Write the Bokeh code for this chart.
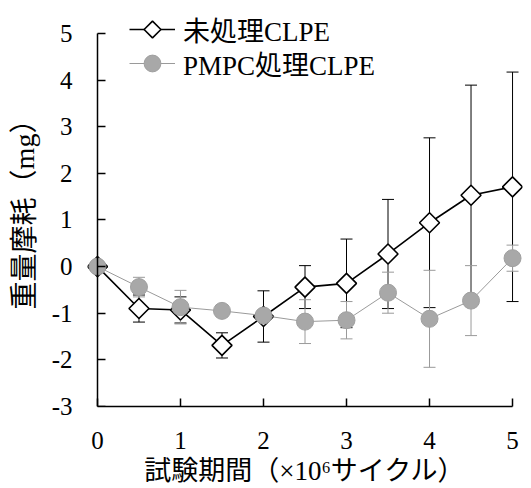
from bokeh.plotting import figure
from bokeh.models import (ColumnDataSource, Whisker, TeeHead, Legend, LegendItem,
                          FixedTicker, Range1d, LinearAxis, CustomJSTickFormatter)
from bokeh.embed import file_html
from bokeh.resources import INLINE

# ---- data ----
cycles = [0, 0.5, 1, 1.5, 2, 2.5, 3, 3.5, 4, 4.5, 5]
untreated = [0, -0.90, -0.93, -1.69, -1.07, -0.44, -0.36, 0.27, 0.94, 1.53, 1.71]
untreated_sd = [0, 0.29, 0.28, 0.27, 0.55, 0.46, 0.95, 1.17, 1.82, 2.36, 2.46]
pmpc = [0, -0.44, -0.87, -0.95, -1.05, -1.18, -1.15, -0.56, -1.12, -0.73, 0.18]
pmpc_sd = [0, 0.21, 0.36, 0.08, 0.10, 0.47, 0.40, 0.44, 1.04, 0.75, 0.28]
x_ticks = [0, 1, 2, 3, 4, 5]
y_ticks = [-3, -2, -1, 0, 1, 2, 3, 4, 5]
label_untreated = "未処理CLPE"
label_pmpc = "PMPC処理CLPE"
x_title = "試験期間（×10⁶サイクル）"
y_title = "重量摩耗（mg）"

FONT = "'Liberation Serif', 'Noto Sans CJK JP'"
GRAY = "#9a9a9a"

src_u = ColumnDataSource(dict(
    x=cycles, y=untreated,
    lo=[m - s for m, s in zip(untreated, untreated_sd)],
    hi=[m + s for m, s in zip(untreated, untreated_sd)]))
src_p = ColumnDataSource(dict(
    x=cycles, y=pmpc,
    lo=[m - s for m, s in zip(pmpc, pmpc_sd)],
    hi=[m + s for m, s in zip(pmpc, pmpc_sd)]))

p = figure(width=531, height=488, output_backend="svg", toolbar_location=None,
           x_range=Range1d(-0.12, 5.12), y_range=Range1d(-3, 5.533),
           y_axis_location=None,
           min_border_left=87, min_border_right=9, min_border_top=8,
           min_border_bottom=80)
p.outline_line_color = None
p.grid.visible = False
p.background_fill_color = "white"
p.border_fill_color = "white"

num_fmt = CustomJSTickFormatter(code="return String(tick)")


def style(ax):
    ax.axis_line_color = "black"
    ax.axis_line_width = 1.5
    ax.major_tick_in = 8
    ax.major_tick_out = 0
    ax.major_tick_line_color = "black"
    ax.major_tick_line_width = 1.5
    ax.minor_tick_line_color = None
    ax.major_label_text_font = FONT
    ax.major_label_text_font_size = "25px"
    ax.major_label_text_color = "black"
    ax.axis_label_text_font = FONT
    ax.axis_label_text_font_size = "27px"
    ax.axis_label_text_font_style = "normal"
    ax.axis_label_text_color = "black"


# x axis
xa = p.xaxis[0]
style(xa)
xa.ticker = FixedTicker(ticks=x_ticks)
xa.formatter = num_fmt
xa.bounds = (0, 5)
xa.major_label_standoff = 25
xa.axis_label_standoff = 4
xa.axis_label = x_title

# y axis: labels (at the frame edge) + rule/ticks at x = 0
ya_lab = LinearAxis(ticker=FixedTicker(ticks=y_ticks), axis_label=y_title,
                    formatter=num_fmt, bounds=(-3, 5))
style(ya_lab)
ya_lab.axis_label_text_font_size = "28px"
ya_lab.axis_line_color = None
ya_lab.major_tick_line_color = None
ya_lab.major_label_standoff = 15
ya_lab.axis_label_standoff = 9
p.add_layout(ya_lab, "left")

ya_rule = LinearAxis(ticker=FixedTicker(ticks=y_ticks), fixed_location=0,
                     bounds=(-3, 5),
                     formatter=CustomJSTickFormatter(code="return ''"))
style(ya_rule)
ya_rule.major_label_standoff = 0
p.add_layout(ya_rule, "left")

# error bars
p.add_layout(Whisker(source=src_u, base="x", lower="lo", upper="hi",
                     line_color="black", line_width=1,
                     upper_head=TeeHead(size=12, line_color="black", line_width=1),
                     lower_head=TeeHead(size=12, line_color="black", line_width=1)))
p.add_layout(Whisker(source=src_p, base="x", lower="lo", upper="hi",
                     line_color=GRAY, line_width=1,
                     upper_head=TeeHead(size=12, line_color=GRAY, line_width=1),
                     lower_head=TeeHead(size=12, line_color=GRAY, line_width=1)))

# series
lu = p.line("x", "y", source=src_u, line_color="black", line_width=1.6)
mu = p.ngon("x", "y", source=src_u, radius=10, radius_units="screen", n=4,
            fill_color="white", line_color="black", line_width=1.6)
lp = p.line("x", "y", source=src_p, line_color=GRAY, line_width=1)
mp = p.scatter("x", "y", source=src_p, marker="circle", size=17,
               fill_color="#a8a8a8", line_color="#a0a0a0", line_width=1)


def make_legend(label, rends, loc):
    return Legend(items=[LegendItem(label=label, renderers=rends)],
                  location=loc, border_line_color=None, background_fill_alpha=0,
                  glyph_width=46, glyph_height=42, label_height=32,
                  padding=0, margin=0, label_standoff=8,
                  label_text_font=FONT, label_text_font_size="27px",
                  label_text_color="black")


p.add_layout(make_legend(label_untreated, [lu, mu], (42, 356)), "center")
p.add_layout(make_legend(label_pmpc, [lp, mp], (42, 322)), "center")

open("out.html", "w").write(file_html(p, INLINE))
